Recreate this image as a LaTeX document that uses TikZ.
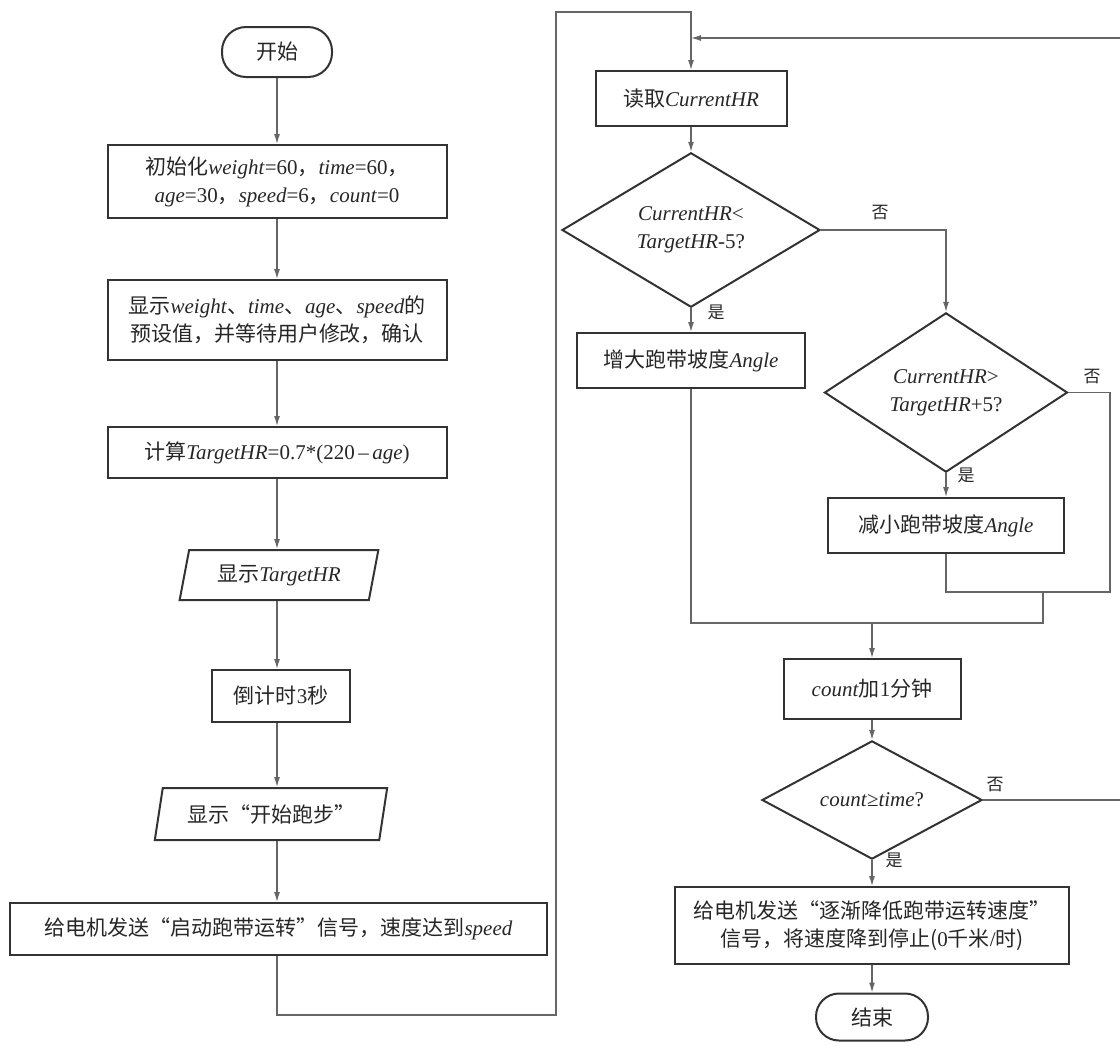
\documentclass[tikz,border=0pt]{standalone}
\usepackage{fontspec}
\setmainfont{Liberation Serif}
\newfontfamily\cjk{Noto Sans CJK SC}
\usetikzlibrary{shapes.geometric,arrows.meta}
\newcommand{\zh}[1]{{\cjk #1}}

\begin{document}
\begin{tikzpicture}[x=1pt,y=-1pt,
  every node/.style={font=\fontsize{21}{28}\selectfont, text=black!85, inner sep=2pt},
  box/.style={draw=black!80, line width=2pt, rectangle, align=center},
  term/.style={draw=black!80, line width=2pt, rectangle, rounded corners=24pt,
    minimum width=110pt, minimum height=50pt},
  io/.style={draw=black!80, line width=2pt, trapezium, trapezium left angle=75,
    trapezium right angle=105, trapezium stretches=true, align=center},
  cond/.style={draw=black!80, line width=2pt, diamond, inner sep=0pt, align=center},
  line/.style={draw=black!60, line width=1.2pt},
  arr/.style={line, -{Latex[length=10pt,width=6pt]}},
  lbl/.style={font=\fontsize{17}{20}\selectfont}
]
\useasboundingbox (0,0) rectangle (1120,1045);

% ---- left column: set-up ----
\node[term] (start) at (277,52) {\zh{开始}};
\node[box, minimum width=339pt, minimum height=73pt] (init) at (277,181.5)
  {\zh{初始化}\textit{weight}=60\zh{，}\textit{time}=60\zh{，}\\
   \textit{age}=30\zh{，}\textit{speed}=6\zh{，}\textit{count}=0};
\node[box, minimum width=339pt, minimum height=80pt] (disp) at (277,320)
  {\zh{显示}\textit{weight}\zh{、}\textit{time}\zh{、}\textit{age}\zh{、}\textit{speed}\zh{的}\\
   \zh{预设值，并等待用户修改，确认}};
\node[box, minimum width=339pt, minimum height=51pt] (calc) at (277,452.5)
  {\zh{计算}\textit{TargetHR}=0.7*(220\,--\,\textit{age})};
\node[io, minimum width=199pt, minimum height=50pt] (showT) at (279,575)
  {\zh{显示}\textit{TargetHR}};
\node[box, minimum width=138pt, minimum height=52pt] (wait) at (281,696)
  {\zh{倒计时}3\zh{秒}};
\node[io, minimum width=233pt, minimum height=52pt] (showR) at (271,814)
  {\zh{显示“开始跑步”}};
\node[box, minimum width=537pt, minimum height=52pt] (go) at (278.5,929)
  {\zh{给电机发送“启动跑带运转”信号，速度达到}\textit{speed}};

% ---- right column: control loop ----
\node[box, minimum width=191pt, minimum height=55pt] (read) at (691,98.5)
  {\zh{读取}\textit{CurrentHR}};
\node[cond, minimum width=258pt, minimum height=132pt] (d1) at (691,230)
  {\textit{CurrentHR}<\\ \textit{TargetHR}-5?};
\node[box, minimum width=228pt, minimum height=55pt] (inc) at (691,360.5)
  {\zh{增大跑带坡度}\textit{Angle}};
\node[cond, minimum width=243pt, minimum height=119pt] (d2) at (946,392.5)
  {\textit{CurrentHR}>\\ \textit{TargetHR}+5?};
\node[box, minimum width=236pt, minimum height=55pt] (dec) at (946,525.5)
  {\zh{减小跑带坡度}\textit{Angle}};
\node[box, minimum width=177pt, minimum height=60pt] (cnt) at (872,689)
  {\textit{count}\zh{加}1\zh{分钟}};
\node[cond, minimum width=220pt, minimum height=84pt] (d3) at (872,800)
  {\textit{count}≥\textit{time}?};
\node[box, minimum width=394pt, minimum height=77pt] (stop) at (872,925.5)
  {\zh{给电机发送“逐渐降低跑带运转速度”}\\ \zh{信号，将速度降到停止(}0\zh{千米}/\zh{时)}};
\node[term, minimum width=112pt, minimum height=47pt, rounded corners=23pt] (end) at (872,1017)
  {\zh{结束}};

% ---- bend points ----
\coordinate (lb) at (556,1015);
\coordinate (lt) at (556,12);
\coordinate (fb) at (1121,38);
\coordinate (rj) at (1110,592);
\coordinate (mj) at (1043,592);
\coordinate (mb) at (1043,623);
\coordinate (mm) at (872,623);

% ---- connectors ----
\draw[arr] (start) -- (start |- init.north);
\draw[arr] (init) -- (init |- disp.north);
\draw[arr] (disp) -- (disp |- calc.north);
\draw[arr] (calc) -- (calc |- showT.north);
\draw[arr] (showT.south -| calc) -- (calc |- wait.north);
\draw[arr] (wait.south -| calc) -- (calc |- showR.north);
\draw[arr] (showR.south -| calc) -- (calc |- go.north);
\draw[arr] (go.south -| calc) |- (lb) -- (lt) -| (read.north);

\draw[arr] (d3.east) -| (fb) -- (fb -| read.north);
\draw[arr] (read) -- (d1.north);
\draw[arr] (d1.south) -- (inc.north);
\draw[arr] (d1.east) -| (d2.north);
\draw[arr] (d2.south) -- (dec.north);
\draw[line] (d2.east) -| (rj) -| (dec.south);
\draw[line] (inc.south) |- (mb) -- (mj);
\draw[arr] (mm) -- (cnt.north);
\draw[arr] (cnt) -- (d3.north);
\draw[arr] (d3.south) -- (stop.north);
\draw[arr] (stop) -- (end.north);

% ---- branch labels ----
\node[lbl] (y1) at (716,312) {\zh{是}};
\node[lbl] (n1) at (880,213) {\zh{否}};
\node[lbl] (y2) at (966,475) {\zh{是}};
\node[lbl] (n2) at (1092,377) {\zh{否}};
\node[lbl] (y3) at (894,860) {\zh{是}};
\node[lbl] (n3) at (995,785) {\zh{否}};
\end{tikzpicture}
\end{document}
